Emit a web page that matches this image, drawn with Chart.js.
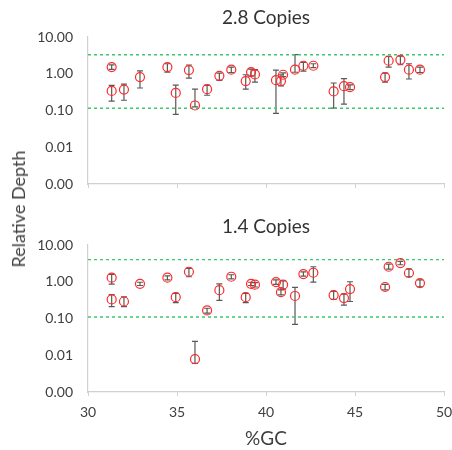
<!DOCTYPE html>
<html>
<head>
<meta charset="utf-8">
<script src="https://cdn.jsdelivr.net/npm/chart.js@4"></script>
<style>
    body { margin: 0; background: #fff; }
    #wrap { position: relative; width: 452px; height: 450px; overflow: hidden; }
    #top { position: absolute; left: 0; top: 0; }
    #bottom { position: absolute; left: 0; top: 200px; }
    #ylabel {
        position: absolute; left: 18px; top: 209px;
        transform: translate(-50%, -50%) rotate(-90deg);
        font: 18px Lato, sans-serif; color: #404040; white-space: nowrap;
    }
</style>
</head>
<body>
<div id="wrap">
    <canvas id="top" width="452" height="200"></canvas>
    <canvas id="bottom" width="452" height="250"></canvas>
    <div id="ylabel">Relative Depth</div>
</div>
<script>
// Tick values
const yTicks = [0.001, 0.01, 0.1, 1, 10];
const xMin = 30, xMax = 50, xStep = 5;

// %GC of each amplicon (same for both panels)
const gc = [31.33, 31.33, 32.02, 32.92, 34.46, 34.93, 35.67, 36.01, 36.69, 37.38, 38.05, 38.86, 39.16, 39.38,
            40.56, 40.84, 40.96, 41.63, 42.10, 42.66, 43.80, 44.38, 44.72, 46.69, 46.89, 47.55, 48.03, 48.65];

// 2.8 copies
const depth28 = [1.52, 0.34, 0.37, 0.81, 1.52, 0.30, 1.26, 0.137, 0.38, 0.88, 1.29, 0.63, 1.11, 0.96,
                 0.67, 0.63, 0.94, 1.29, 1.65, 1.65, 0.33, 0.46, 0.43, 0.81, 2.26, 2.40, 1.29, 1.29];
const hi28 = [1.75, 0.48, 0.52, 1.19, 1.87, 0.49, 1.73, 0.38, 0.48, 1.04, 1.52, 0.94, 1.34, 1.29,
              1.26, 0.94, 1.05, 3.3, 2.03, 1.87, 0.56, 0.74, 0.50, 1.04, 2.97, 3.03, 1.87, 1.52];
const lo28 = [1.32, 0.18, 0.19, 0.41, 1.11, 0.078, 0.76, 0.125, 0.26, 0.66, 1.08, 0.38, 0.88, 0.59,
              0.084, 0.47, 0.84, 1.10, 1.18, 1.46, 0.116, 0.15, 0.37, 0.59, 1.52, 1.76, 0.72, 1.08];
const limits28 = [3.3, 0.115];

// 1.4 copies
const depth14 = [1.29, 0.33, 0.29, 0.88, 1.29, 0.38, 1.87, 0.0078, 0.166, 0.59, 1.37, 0.38, 0.88, 0.83,
                 0.98, 0.52, 0.83, 0.41, 1.62, 1.76, 0.43, 0.36, 0.63, 0.72, 2.56, 3.23, 1.73, 0.92];
const hi14 = [1.59, 0.45, 0.39, 0.97, 1.45, 0.48, 2.3, 0.024, 0.19, 0.88, 1.55, 0.48, 0.97, 0.95,
              1.12, 0.60, 1.06, 0.70, 1.85, 2.56, 0.55, 0.46, 1.0, 0.85, 3.0, 3.6, 2.2, 1.13];
const lo14 = [0.86, 0.21, 0.21, 0.79, 1.12, 0.27, 1.37, 0.006, 0.14, 0.31, 1.2, 0.27, 0.79, 0.72,
              0.85, 0.44, 0.63, 0.069, 1.42, 0.98, 0.33, 0.23, 0.29, 0.60, 2.2, 2.9, 1.37, 0.73];
const limits14 = [4.0, 0.11];

const FONT = 'Lato, sans-serif';
const AXIS_COLOR = '#d0d0d0';

// draws the whiskers from the hi/lo arrays stored on the point dataset
const errorBars = {
    id: 'errorBars',
    beforeDatasetsDraw(chart) {
        const ds = chart.data.datasets[0];
        const x = chart.scales.x, y = chart.scales.y;
        const ctx = chart.ctx;
        ctx.save();
        ctx.strokeStyle = '#595959';
        ctx.lineWidth = 1.2;
        ds.data.forEach((p, i) => {
            const px = x.getPixelForValue(p.x);
            const top = y.getPixelForValue(ds.hi[i]);
            const bot = y.getPixelForValue(ds.lo[i]);
            ctx.beginPath();
            ctx.moveTo(px, top); ctx.lineTo(px, bot);
            ctx.moveTo(px - 3, top); ctx.lineTo(px + 3, top);
            ctx.moveTo(px - 3, bot); ctx.lineTo(px + 3, bot);
            ctx.stroke();
        });
        ctx.restore();
    }
};

function limitLine(v) {
    return {
        type: 'line',
        data: [{x: xMin, y: v}, {x: xMax, y: v}],
        borderColor: '#3cc86a',
        borderWidth: 1.4,
        borderDash: [3, 3],
        pointRadius: 0,
        fill: false
    };
}

function makePanel(id, title, depth, hi, lo, limits, isBottom) {
    const ctx = document.getElementById(id).getContext('2d');
    return new Chart(ctx, {
        type: 'scatter',
        data: {
            datasets: [{
                data: gc.map((g, i) => ({x: g, y: depth[i]})),
                hi: hi,
                lo: lo,
                pointStyle: 'circle',
                pointRadius: 4.5,
                borderColor: '#ff2a2a',
                backgroundColor: 'rgba(0,0,0,0)',
                borderWidth: 1.2
            }, limitLine(limits[0]), limitLine(limits[1])]
        },
        options: {
            responsive: false,
            animation: false,
            devicePixelRatio: 1,
            layout: { autoPadding: false, padding: { left: 0, right: 8, top: 0, bottom: isBottom ? 0 : 12 } },
            plugins: {
                legend: { display: false },
                tooltip: { enabled: false },
                title: {
                    display: true,
                    fullSize: false,
                    text: title,
                    color: '#333',
                    font: { family: FONT, size: 19, weight: 'normal' },
                    padding: isBottom ? { top: 15.6, bottom: 6.6 } : { top: 6.6, bottom: 7.6 }
                }
            },
            scales: {
                x: {
                    type: 'linear',
                    min: xMin,
                    max: xMax,
                    afterFit: scale => {
                        scale.paddingLeft = 0;
                        scale.paddingRight = 0;
                        if (isBottom) scale.height = 58;
                    },
                    ticks: {
                        display: isBottom,
                        stepSize: xStep,
                        padding: 8,
                        color: '#404040',
                        font: { family: FONT, size: 14 }
                    },
                    grid: { drawOnChartArea: false, tickLength: 4, tickColor: AXIS_COLOR },
                    border: { color: AXIS_COLOR, width: 1.2 },
                    title: {
                        display: isBottom,
                        text: '%GC',
                        color: '#404040',
                        font: { family: FONT, size: 19 },
                        padding: { top: 8, bottom: 0 }
                    }
                },
                y: {
                    type: 'logarithmic',
                    min: yTicks[0],
                    max: yTicks[yTicks.length - 1],
                    afterBuildTicks: scale => { scale.ticks = yTicks.map(v => ({value: v})); },
                    afterFit: scale => {
                        scale.width = 88;
                        scale.paddingTop = 0;
                        scale.paddingBottom = 0;
                    },
                    ticks: {
                        padding: 15,
                        color: '#404040',
                        font: { family: FONT, size: 14 },
                        callback: v => Number(v).toFixed(2)
                    },
                    grid: { drawOnChartArea: false, drawTicks: false },
                    border: { color: AXIS_COLOR, width: 1.2 }
                }
            }
        },
        plugins: [errorBars]
    });
}

makePanel('top', '2.8 Copies', depth28, hi28, lo28, limits28, false);
makePanel('bottom', '1.4 Copies', depth14, hi14, lo14, limits14, true);
</script>
</body>
</html>
